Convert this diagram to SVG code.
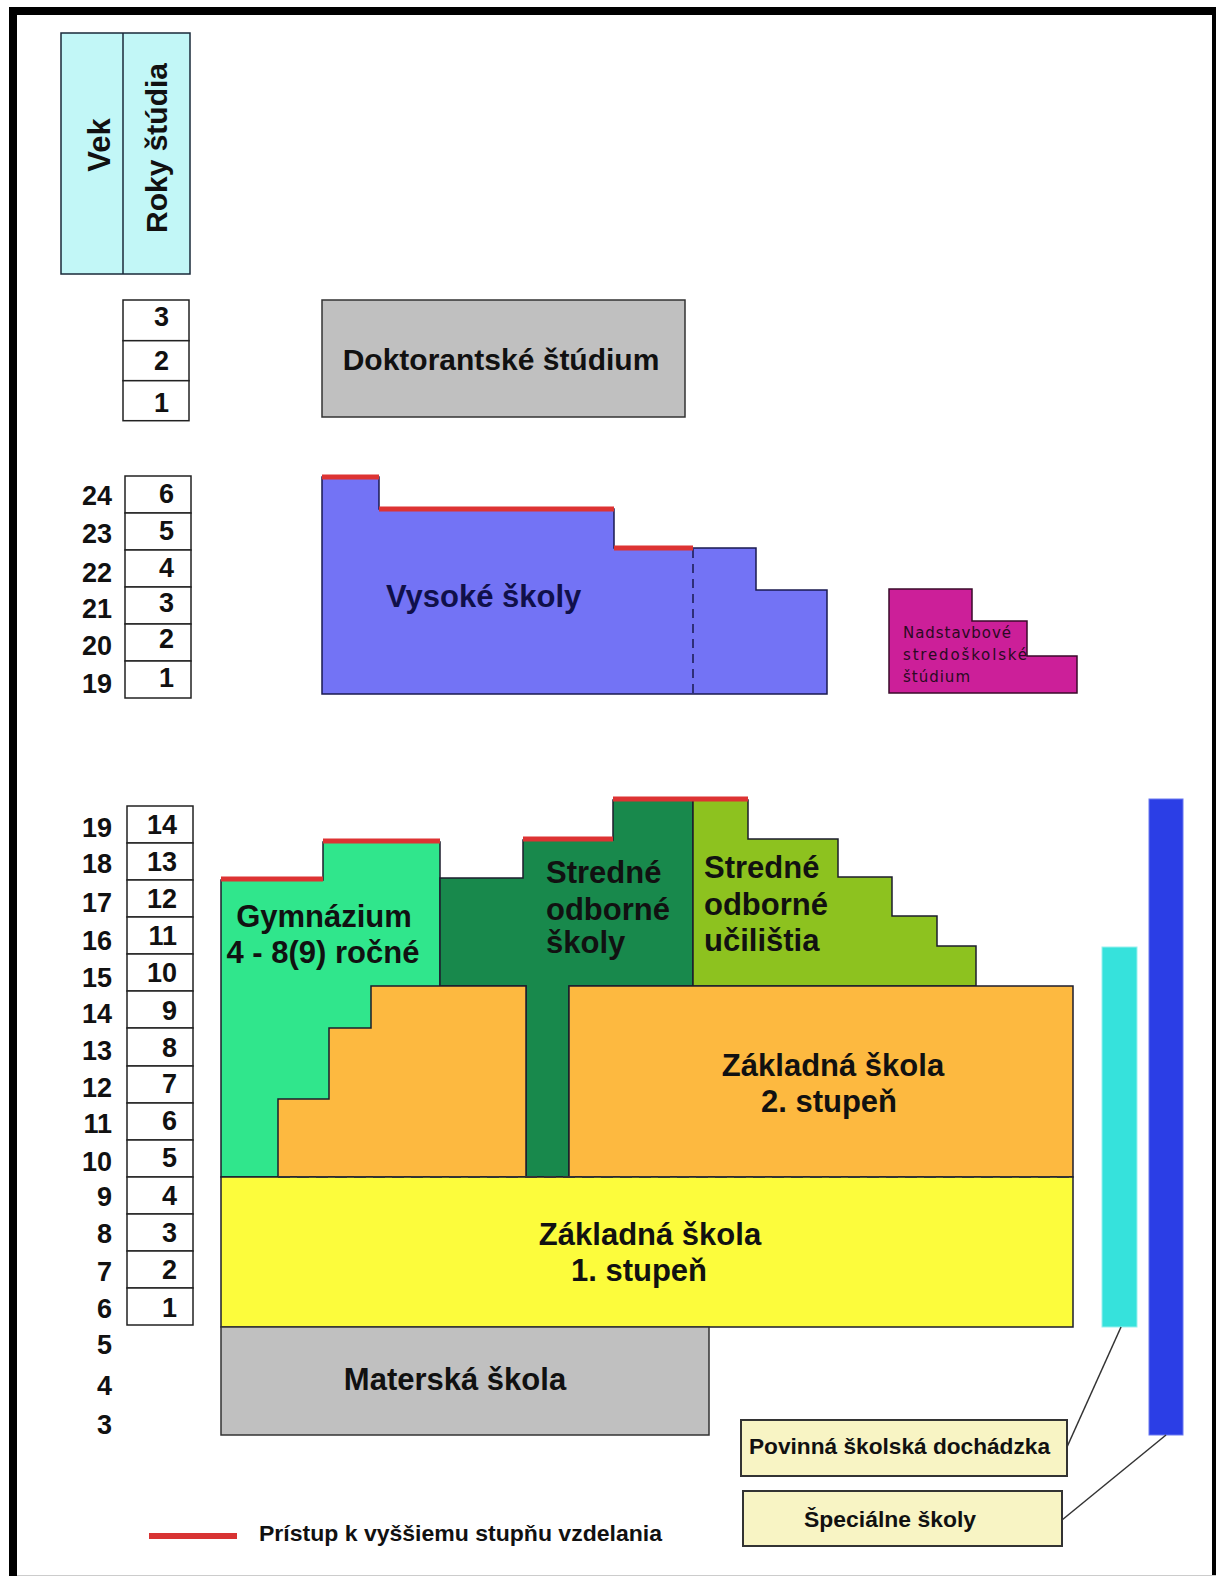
<svg xmlns="http://www.w3.org/2000/svg" width="1216" height="1576" viewBox="0 0 1216 1576">
<style>
text{font-family:"Liberation Sans",Arial,Helvetica,sans-serif;font-weight:bold;fill:#111}
.big{font-size:31px}
.num{font-size:27px;text-anchor:end}
.box{fill:#fff;stroke:#222;stroke-width:1.5}
.edge{stroke:#1c1c2c;stroke-width:1.5}
.red{stroke:#dd3333;stroke-width:5;fill:none}
.mid{text-anchor:middle}
.conn{stroke:#333;stroke-width:1.5;fill:none}
.legend{fill:#f8f4c4;stroke:#333;stroke-width:2}
</style>
<rect x="0" y="0" width="1216" height="1576" fill="#fff"/>
<rect x="13" y="11" width="1203" height="1580" fill="none" stroke="#000" stroke-width="8"/>
<line x1="17" y1="1575.5" x2="1216" y2="1575.5" stroke="#ccc" stroke-width="1"/>

<g id="header">
<rect x="61" y="33" width="129" height="241" fill="#c2f7f7" stroke="#1a2a3a" stroke-width="1.5"/>
<line x1="123" y1="33" x2="123" y2="274" stroke="#1a2a3a" stroke-width="1.5"/>
<text transform="translate(110,145) rotate(-90)" class="mid" font-size="31">Vek</text>
<text transform="translate(167,148) rotate(-90)" class="mid" font-size="30">Roky štúdia</text>
</g>

<g id="years-doktorat">
<rect class="box" x="123" y="300" width="66" height="40.7"/>
<rect class="box" x="123" y="340.7" width="66" height="40"/>
<rect class="box" x="123" y="380.7" width="66" height="40"/>
<text class="num" x="169" y="326">3</text>
<text class="num" x="169" y="370">2</text>
<text class="num" x="169" y="412">1</text>
</g>

<g id="doktorantske">
<rect x="322" y="300" width="363" height="117" fill="#c0c0c0" stroke="#333" stroke-width="1.5"/>
<text x="501" y="370" class="mid" font-size="30">Doktorantské štúdium</text>
</g>

<g id="years-vs">
<rect class="box" x="125" y="476" width="66" height="37"/>
<rect class="box" x="125" y="513" width="66" height="37"/>
<rect class="box" x="125" y="550" width="66" height="37"/>
<rect class="box" x="125" y="587" width="66" height="37"/>
<rect class="box" x="125" y="624" width="66" height="37"/>
<rect class="box" x="125" y="661" width="66" height="37"/>
<text class="num" x="174" y="503">6</text>
<text class="num" x="174" y="540">5</text>
<text class="num" x="174" y="577">4</text>
<text class="num" x="174" y="612">3</text>
<text class="num" x="174" y="648">2</text>
<text class="num" x="174" y="687">1</text>
<text class="num" x="112" y="505">24</text>
<text class="num" x="112" y="543">23</text>
<text class="num" x="112" y="582">22</text>
<text class="num" x="112" y="618">21</text>
<text class="num" x="112" y="655">20</text>
<text class="num" x="112" y="693">19</text>
</g>

<g id="vysoke-skoly">
<path d="M322,477 H379 V509 H614 V548 H756 V590 H827 V694 H322 Z" fill="#7373f5" stroke="#1a1a50" stroke-width="1.5"/>
<line x1="693" y1="549" x2="693" y2="694" stroke="#1a1a50" stroke-width="1.5" stroke-dasharray="9,6"/>
<text x="386" y="607" class="big" style="fill:#10104a">Vysoké školy</text>
</g>

<g id="nadstavbove">
<path d="M889,589 H972 V621 H1027 V656 H1077 V693 H889 Z" fill="#cc1f99" stroke="#3a0a2a" stroke-width="1.5"/>
<text style="font-family:'DejaVu Sans',sans-serif;font-weight:normal;font-size:15px;fill:#2a0a22">
<tspan x="903" y="638" textLength="108" lengthAdjust="spacing">Nadstavbové</tspan>
<tspan x="903" y="660" textLength="124" lengthAdjust="spacing">stredoškolské</tspan>
<tspan x="903" y="682" textLength="67" lengthAdjust="spacing">štúdium</tspan>
</text>
</g>

<g id="years-school">
<rect class="box" x="127" y="806" width="66" height="37"/>
<rect class="box" x="127" y="843" width="66" height="37"/>
<rect class="box" x="127" y="880" width="66" height="37"/>
<rect class="box" x="127" y="917" width="66" height="37"/>
<rect class="box" x="127" y="954" width="66" height="37"/>
<rect class="box" x="127" y="991" width="66" height="37"/>
<rect class="box" x="127" y="1028" width="66" height="38"/>
<rect class="box" x="127" y="1066" width="66" height="37"/>
<rect class="box" x="127" y="1103" width="66" height="37"/>
<rect class="box" x="127" y="1140" width="66" height="37"/>
<rect class="box" x="127" y="1177" width="66" height="37"/>
<rect class="box" x="127" y="1214" width="66" height="37"/>
<rect class="box" x="127" y="1251" width="66" height="37"/>
<rect class="box" x="127" y="1288" width="66" height="37"/>
<text class="num" x="177" y="834">14</text>
<text class="num" x="177" y="871">13</text>
<text class="num" x="177" y="908">12</text>
<text class="num" x="177" y="945">11</text>
<text class="num" x="177" y="982">10</text>
<text class="num" x="177" y="1020">9</text>
<text class="num" x="177" y="1057">8</text>
<text class="num" x="177" y="1093">7</text>
<text class="num" x="177" y="1130">6</text>
<text class="num" x="177" y="1167">5</text>
<text class="num" x="177" y="1205">4</text>
<text class="num" x="177" y="1242">3</text>
<text class="num" x="177" y="1279">2</text>
<text class="num" x="177" y="1317">1</text>
<text class="num" x="112" y="837">19</text>
<text class="num" x="112" y="873">18</text>
<text class="num" x="112" y="912">17</text>
<text class="num" x="112" y="950">16</text>
<text class="num" x="112" y="987">15</text>
<text class="num" x="112" y="1023">14</text>
<text class="num" x="112" y="1060">13</text>
<text class="num" x="112" y="1097">12</text>
<text class="num" x="112" y="1133">11</text>
<text class="num" x="112" y="1171">10</text>
<text class="num" x="112" y="1206">9</text>
<text class="num" x="112" y="1243">8</text>
<text class="num" x="112" y="1281">7</text>
<text class="num" x="112" y="1318">6</text>
<text class="num" x="112" y="1354">5</text>
<text class="num" x="112" y="1395">4</text>
<text class="num" x="112" y="1434">3</text>
</g>

<g id="gymnazium">
<path class="edge" d="M221,880 H323 V842 H440 V1177 H221 Z" fill="#30e68c"/>
<text x="324" y="927" class="big mid">Gymnázium</text>
<text x="323" y="963" class="big mid">4 - 8(9) ročné</text>
</g>

<g id="stredne-odborne-skoly">
<path class="edge" d="M440,878 H523 V840 H613 V800 H693 V986 H569 V1177 H526 V986 H440 Z" fill="#18894c"/>
<text x="546" y="883" class="big">Stredné</text>
<text x="546" y="920" class="big">odborné</text>
<text x="546" y="953" class="big">školy</text>
</g>

<g id="stredne-odborne-ucilistia">
<path class="edge" d="M693,800 H748 V839 H838 V877 H892 V916 H937 V946 H976 V986 H693 Z" fill="#8dc21f"/>
<text x="704" y="878" class="big">Stredné</text>
<text x="704" y="915" class="big">odborné</text>
<text x="704" y="951" class="big">učilištia</text>
</g>

<g id="zakladna-skola-2">
<path class="edge" d="M278,1177 V1099 H329 V1028 H371 V986 H526 V1177 Z" fill="#fdb940"/>
<rect class="edge" x="569" y="986" width="504" height="191" fill="#fdb940"/>
<text x="833" y="1076" class="big mid">Základná škola</text>
<text x="829" y="1112" class="big mid">2. stupeň</text>
</g>

<g id="zakladna-skola-1">
<rect class="edge" x="221" y="1177" width="852" height="150" fill="#fcfc3c"/>
<line x1="278" y1="1177" x2="1073" y2="1177" stroke="#333" stroke-width="2" stroke-dasharray="12,7"/>
<text x="650" y="1245" class="big mid">Základná škola</text>
<text x="639" y="1281" class="big mid">1. stupeň</text>
</g>

<g id="materska-skola">
<rect x="221" y="1327" width="488" height="108" fill="#c0c0c0" stroke="#333" stroke-width="1.5"/>
<text x="455" y="1390" class="big mid">Materská škola</text>
</g>

<g id="povinna-bar">
<rect x="1102" y="947" width="35" height="380" fill="#36e2dc" stroke="#9af0ee" stroke-width="1"/>
</g>

<g id="specialne-bar">
<rect x="1149" y="799" width="34" height="636" fill="#2b3ee6" stroke="#6a78f0" stroke-width="1"/>
</g>

<g id="access-lines">
<line class="red" x1="322" y1="477" x2="379" y2="477"/>
<line class="red" x1="379" y1="509" x2="614" y2="509"/>
<line class="red" x1="614" y1="548" x2="693" y2="548"/>
<line class="red" x1="221" y1="879" x2="323" y2="879"/>
<line class="red" x1="323" y1="841" x2="440" y2="841"/>
<line class="red" x1="523" y1="839" x2="613" y2="839"/>
<line class="red" x1="613" y1="799" x2="748" y2="799"/>
</g>

<g id="legend-povinna">
<rect class="legend" x="741" y="1420" width="326" height="56"/>
<text x="749" y="1454" font-size="22" textLength="301" lengthAdjust="spacingAndGlyphs">Povinná školská dochádzka</text>
</g>

<g id="legend-specialne">
<rect class="legend" x="743" y="1491" width="319" height="55"/>
<text x="804" y="1527" font-size="22" textLength="172" lengthAdjust="spacingAndGlyphs">Špeciálne školy</text>
</g>

<g id="connectors">
<line class="conn" x1="1121" y1="1327" x2="1067" y2="1447"/>
<line class="conn" x1="1166" y1="1435" x2="1062" y2="1520"/>
</g>

<g id="legend-access">
<line x1="149" y1="1536" x2="237" y2="1536" stroke="#d83333" stroke-width="6"/>
<text x="259" y="1541" font-size="22" textLength="403" lengthAdjust="spacingAndGlyphs">Prístup k vyššiemu stupňu vzdelania</text>
</g>
</svg>
